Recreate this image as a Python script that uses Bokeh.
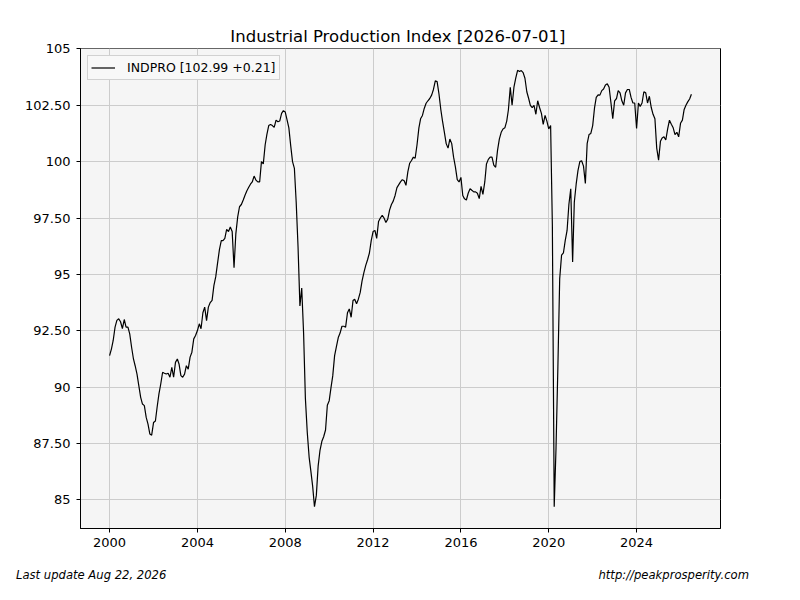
import pandas as pd
from bokeh.plotting import figure
from bokeh.layouts import column
from bokeh.models import (Range1d, FixedTicker, CustomJSTickFormatter, Legend, LegendItem,
                          ColumnDataSource, DatetimeTickFormatter, Div)
from bokeh.embed import file_html
from bokeh.resources import INLINE

# ---------------- data (monthly INDPRO) ----------------
series_name = "INDPRO"
first_month = "2000-01-01"
ip_2000 = [91.4, 91.7, 92.07, 92.66, 92.96, 93.03, 92.9, 92.6, 93.0, 92.66, 92.66, 92.36]
ip_2001 = [91.77, 91.25, 90.95, 90.58, 90.07, 89.55, 89.25, 89.18, 88.66, 88.36, 87.92, 87.87]
ip_2002 = [88.43, 88.5, 89.1, 89.7, 90.14, 90.66, 90.62, 90.58, 90.62, 90.44, 90.88, 90.44]
ip_2003 = [91.1, 91.25, 91.03, 90.51, 90.44, 90.58, 90.95, 90.8, 91.33, 91.55, 92.14, 92.29]
ip_2004 = [92.51, 92.81, 92.59, 93.3, 93.55, 92.95, 93.55, 93.75, 93.85, 94.5, 94.9, 95.5]
ip_2005 = [96.1, 96.5, 96.5, 96.6, 97.0, 96.9, 97.1, 96.9, 95.3, 96.8, 97.55, 98.0]
ip_2006 = [98.1, 98.3, 98.5, 98.7, 98.85, 99.0, 99.1, 99.36, 99.18, 99.1, 99.1, 100.0]
ip_2007 = [99.9, 100.75, 101.2, 101.6, 101.65, 101.6, 101.52, 101.84, 101.77, 101.8, 102.14, 102.26]
ip_2008 = [102.2, 101.84, 101.5, 100.7, 100.0, 99.7, 98.2, 96.2, 93.6, 94.4, 92.4, 89.5]
ip_2009 = [88.0, 86.9, 86.3, 85.6, 84.7, 85.2, 86.5, 87.2, 87.6, 87.8, 88.1, 89.2]
ip_2010 = [89.4, 90.0, 90.5, 91.4, 91.8, 92.2, 92.4, 92.7, 92.7, 92.66, 93.3, 93.47]
ip_2011 = [93.1, 93.84, 93.9, 93.7, 93.9, 94.2, 94.7, 95.08, 95.4, 95.65, 95.95, 96.5]
ip_2012 = [96.9, 96.95, 96.6, 97.35, 97.5, 97.62, 97.5, 97.3, 97.45, 97.85, 98.1, 98.25]
ip_2013 = [98.5, 98.85, 98.97, 99.1, 99.2, 99.15, 98.95, 99.55, 99.93, 100.05, 100.2, 100.15]
ip_2014 = [100.75, 101.5, 101.9, 102.05, 102.36, 102.59, 102.7, 102.8, 102.95, 103.2, 103.58, 103.55]
ip_2015 = [103.0, 102.3, 101.8, 101.3, 100.8, 100.6, 101.0, 100.8, 100.2, 99.77, 99.2, 99.1]
ip_2016 = [99.3, 98.5, 98.35, 98.3, 98.6, 98.8, 98.73, 98.66, 98.66, 98.6, 98.36, 98.9]
ip_2017 = [98.55, 99.1, 99.9, 100.1, 100.2, 100.2, 99.85, 99.75, 100.5, 101.0, 101.3, 101.45]
ip_2018 = [101.5, 101.8, 102.3, 103.3, 102.5, 103.3, 103.7, 104.05, 104.0, 104.04, 103.95, 103.7]
ip_2019 = [103.1, 102.8, 102.5, 102.4, 102.5, 102.1, 102.7, 102.4, 102.14, 101.65, 102.05, 101.8]
ip_2020 = [101.45, 101.6, 97.2, 84.7, 87.3, 90.9, 94.8, 95.85, 95.95, 96.5, 96.95, 98.1]
ip_2021 = [98.8, 95.55, 98.2, 99.0, 99.6, 100.0, 100.04, 99.8, 99.03, 100.8, 101.2, 101.25]
ip_2022 = [101.6, 102.4, 102.85, 102.96, 102.95, 103.15, 103.22, 103.4, 103.45, 103.3, 102.6, 101.9]
ip_2023 = [102.7, 102.8, 103.15, 103.05, 102.7, 102.5, 103.05, 103.2, 103.2, 102.85, 102.6, 102.6]
ip_2024 = [101.47, 102.6, 102.45, 102.6, 103.1, 103.05, 102.6, 102.9, 102.4, 102.1, 101.9, 100.6]
ip_2025 = [100.07, 100.9, 101.05, 101.1, 100.96, 101.45, 101.84, 101.66, 101.5, 101.2, 101.3, 101.1]
ip_2026 = [101.7, 101.84, 102.3, 102.5, 102.65, 102.78, 102.99]

x_tick_years = [2000, 2004, 2008, 2012, 2016, 2020, 2024]
y_tick_values = [85, 87.5, 90, 92.5, 95, 97.5, 100, 102.5, 105]

title_text = "Industrial Production Index  [2026-07-01]"
footer_left = "Last update Aug 22, 2026"
footer_right = "http://peakprosperity.com"

# ---------------- build ----------------
values = (ip_2000 + ip_2001 + ip_2002 + ip_2003 + ip_2004 + ip_2005 + ip_2006 + ip_2007 +
          ip_2008 + ip_2009 + ip_2010 + ip_2011 + ip_2012 + ip_2013 + ip_2014 + ip_2015 +
          ip_2016 + ip_2017 + ip_2018 + ip_2019 + ip_2020 + ip_2021 + ip_2022 + ip_2023 +
          ip_2024 + ip_2025 + ip_2026)
dates = pd.date_range(first_month, periods=len(values), freq="MS")
src = ColumnDataSource(dict(date=dates, value=values))

legend_label = f"{series_name} [{values[-1]:.2f} {values[-1] - values[-2]:+.2f}]"

t0, t1 = dates[0], dates[-1]
tspan = t1 - t0
x_range = Range1d(start=(t0 - 0.05 * tspan).to_pydatetime(), end=(t1 + 0.05 * tspan).to_pydatetime())
vmin, vmax = min(values), max(values)
vspan = vmax - vmin
y_range = Range1d(start=vmin - 0.05 * vspan, end=vmax + 0.05 * vspan)

FONT = "DejaVu Sans"
W = 784

p = figure(width=W, height=560, x_axis_type="datetime", x_range=x_range, y_range=y_range,
           output_backend="svg", toolbar_location=None,
           min_border_left=80, min_border_right=64, min_border_top=48, min_border_bottom=32)

p.background_fill_color = "#f5f5f5"
p.border_fill_color = "white"
p.outline_line_color = "black"
p.outline_line_alpha = 1.0
p.outline_line_width = 1

p.title.text = title_text
p.title.align = "center"
p.title.text_font = FONT
p.title.text_font_size = "16.5px"
p.title.text_font_style = "normal"
p.title.text_color = "black"
p.title.standoff = 6

tick_ms = [pd.Timestamp(f"{y}-01-01").value // 10**6 for y in x_tick_years]
p.xaxis.ticker = FixedTicker(ticks=tick_ms)
p.xaxis.formatter = DatetimeTickFormatter(years="%Y", months="%Y", days="%Y", hours="%Y",
                                          minutes="%Y", seconds="%Y", milliseconds="%Y",
                                          microseconds="%Y")
p.yaxis.ticker = FixedTicker(ticks=y_tick_values)
p.yaxis.formatter = CustomJSTickFormatter(
    code="return (Math.abs(tick - Math.round(tick)) < 1e-9) ? tick.toFixed(0) : tick.toFixed(2);")

for ax in (p.xaxis, p.yaxis):
    ax.axis_line_color = "black"
    ax.major_tick_line_color = "black"
    ax.major_tick_out = 4
    ax.major_tick_in = 0
    ax.minor_tick_line_color = None
    ax.major_label_text_font = FONT
    ax.major_label_text_font_size = "13px"
    ax.major_label_text_color = "black"
p.xaxis.major_label_standoff = 5
p.yaxis.major_label_standoff = 6

p.grid.grid_line_color = "#cccccc"
p.grid.grid_line_width = 1

line = p.line(x="date", y="value", source=src, line_color="black", line_width=1.2)
dummy = p.line(x=[], y=[], line_alpha=0)

common = dict(label_text_font=FONT, label_text_font_size="12.5px", padding=3, spacing=0,
              glyph_width=24, glyph_height=17, label_height=17, label_standoff=12,
              location="top_left")

# drop shadow of the legend box (no text of its own)
shadow = Legend(items=[LegendItem(label=" ", renderers=[dummy])], margin=9,
                label_width=149,
                background_fill_color="black", background_fill_alpha=0.45,
                border_line_color=None, label_text_alpha=0.0, **common)
main_legend = Legend(items=[LegendItem(label=legend_label, renderers=[line])], margin=7,
                     label_width=149,
                     background_fill_color="#f8f8f8", background_fill_alpha=1.0,
                     border_line_color="#aaaaaa", border_line_width=1,
                     label_text_color="black", **common)
p.add_layout(shadow, "center")
p.add_layout(main_legend, "center")

# footer strip below the chart
span_style = "position:absolute;top:9px;white-space:nowrap;"
footer = Div(
    text=(f'<div style="position:relative;width:{W}px;height:24px;'
          f"font-family:'DejaVu Sans';font-style:italic;font-size:11.6px;line-height:13px;color:black;\">"
          f'<span style="{span_style}left:16px;">{footer_left}</span>'
          f'<span style="{span_style}right:35px;">{footer_right}</span></div>'),
    width=W, height=24, margin=0)

layout = column(p, footer, spacing=0)
open("out.html", "w").write(file_html(layout, INLINE))
